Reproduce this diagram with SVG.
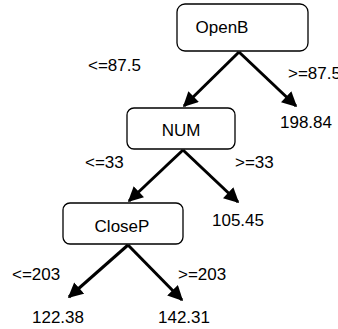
<svg xmlns="http://www.w3.org/2000/svg" width="338" height="329" viewBox="0 0 338 329">
<defs>
<style>
.box{fill:#fff;stroke:#000;stroke-width:1.3}
.lbl{font-family:"Liberation Sans",Arial,sans-serif;font-size:17px;fill:#000}
.mid{text-anchor:middle}
.edge{stroke:#000;stroke-width:3;fill:none;marker-end:url(#ah)}
</style>
<marker id="ah" viewBox="0 0 10 10" refX="9" refY="5" markerWidth="5.2" markerHeight="5" orient="auto" markerUnits="strokeWidth">
<path d="M0,0 L10,5 L0,10 z" fill="#000"/>
</marker>
</defs>
<rect width="338" height="329" fill="#fff"/>
<g id="connectors">
<line class="edge" x1="239" y1="52" x2="184" y2="106"/>
<line class="edge" x1="239" y1="52" x2="296" y2="106"/>
<line class="edge" x1="183" y1="150" x2="129" y2="201"/>
<line class="edge" x1="183" y1="150" x2="238" y2="202"/>
<line class="edge" x1="128" y1="245" x2="69" y2="297"/>
<line class="edge" x1="128" y1="245" x2="182" y2="300"/>
</g>
<g id="node-openb">
<rect class="box" x="177" y="4" width="131" height="47" rx="8"/>
<text class="lbl mid" x="222" y="33">OpenB</text>
</g>
<g id="node-num">
<rect class="box" x="127" y="108" width="108" height="41" rx="7"/>
<text class="lbl mid" x="181" y="136">NUM</text>
</g>
<g id="node-closep">
<rect class="box" x="63" y="203" width="120" height="41" rx="7"/>
<text class="lbl mid" x="122" y="232">CloseP</text>
</g>
<g id="leaf-198">
<text class="lbl" x="280" y="128">198.84</text>
</g>
<g id="leaf-105">
<text class="lbl" x="212" y="226">105.45</text>
</g>
<g id="leaf-122">
<text class="lbl" x="32" y="323">122.38</text>
</g>
<g id="leaf-142">
<text class="lbl" x="158" y="323">142.31</text>
</g>
<g id="edge-labels">
<text class="lbl" x="88" y="71">&lt;=87.5</text>
<text class="lbl" x="288" y="79">&gt;=87.5</text>
<text class="lbl" x="85" y="168">&lt;=33</text>
<text class="lbl" x="235" y="168">&gt;=33</text>
<text class="lbl" x="12" y="280">&lt;=203</text>
<text class="lbl" x="178" y="280">&gt;=203</text>
</g>
</svg>
